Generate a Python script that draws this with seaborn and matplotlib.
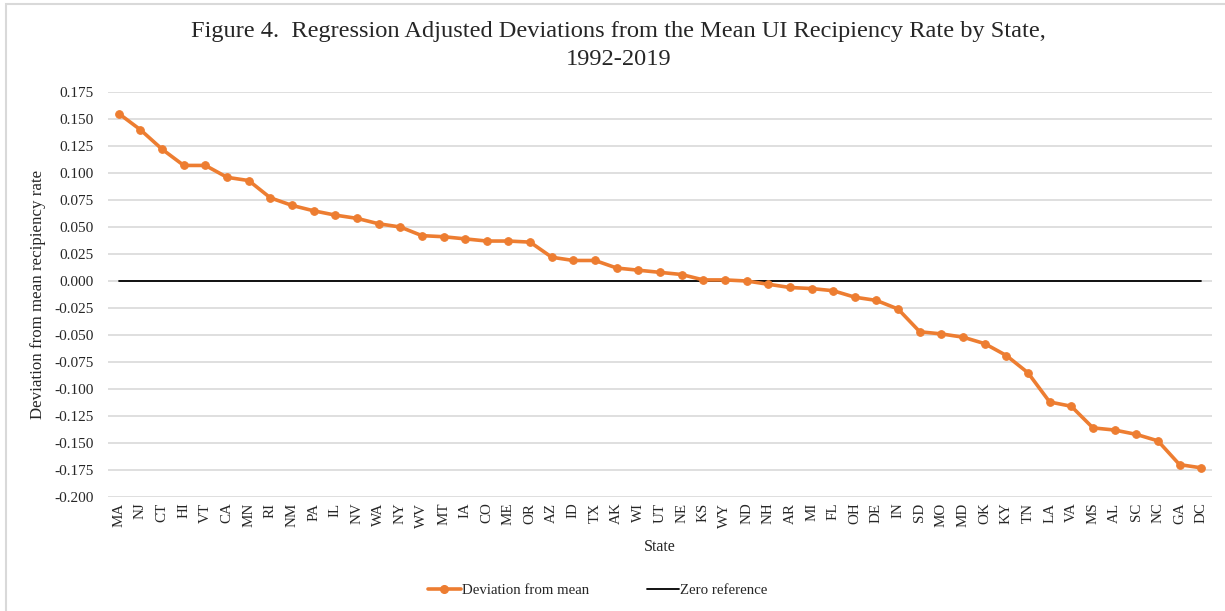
import matplotlib.pyplot as plt
import matplotlib.patches as mpatches
from matplotlib.lines import Line2D
import pandas as pd
import seaborn as sns

states = ["MA", "NJ", "CT", "HI", "VT", "CA", "MN", "RI", "NM", "PA", "IL", "NV", "WA",
          "NY", "WV", "MT", "IA", "CO", "ME", "OR", "AZ", "ID", "TX", "AK", "WI", "UT",
          "NE", "KS", "WY", "ND", "NH", "AR", "MI", "FL", "OH", "DE", "IN", "SD", "MO",
          "MD", "OK", "KY", "TN", "LA", "VA", "MS", "AL", "SC", "NC", "GA", "DC"]
deviation = [0.155, 0.140, 0.122, 0.107, 0.107, 0.096, 0.093, 0.077, 0.070, 0.065,
             0.061, 0.058, 0.053, 0.050, 0.042, 0.041, 0.039, 0.037, 0.037, 0.036,
             0.022, 0.019, 0.019, 0.012, 0.010, 0.008, 0.006, 0.001, 0.001, 0.000,
             -0.003, -0.006, -0.007, -0.009, -0.015, -0.018, -0.026, -0.047, -0.049,
             -0.052, -0.058, -0.069, -0.085, -0.112, -0.116, -0.136, -0.138, -0.142,
             -0.148, -0.170, -0.173]
zero_ref = [0.0] * len(states)
yticks = [0.175, 0.150, 0.125, 0.100, 0.075, 0.050, 0.025, 0.000, -0.025, -0.050,
          -0.075, -0.100, -0.125, -0.150, -0.175, -0.200]

df = pd.DataFrame({"State": states, "dev": deviation, "zero": zero_ref})

sns.set_theme(style="white")
plt.rcParams["font.family"] = ["Liberation Serif", "DejaVu Serif"]

fig = plt.figure(figsize=(12.25, 6.11), dpi=100)
ax = fig.add_axes([108 / 1225, 1 - 497 / 611, (1212 - 108) / 1225, (497 - 92) / 611])

orange = "#ED7D31"
sns.lineplot(data=df, x="State", y="zero", color="black", linewidth=1.3, sort=False, ax=ax)
sns.lineplot(data=df, x="State", y="dev", color=orange, linewidth=2.6, marker="o",
             markersize=5.5, markeredgecolor=orange, sort=False, ax=ax)

ax.set_ylim(-0.200, 0.175)
ax.set_xlim(-0.5, len(states) - 0.5)
ax.set_yticks(yticks)
ax.set_yticklabels([f"{v:.3f}" for v in yticks], fontsize=11)
ax.tick_params(axis="x", labelrotation=90, labelsize=10.8, pad=4, length=0)
ax.tick_params(axis="y", length=0, pad=10)
ax.grid(axis="y", color="#d9d9d9", linewidth=1.2)
ax.set_axisbelow(True)
for s in ax.spines.values():
    s.set_visible(False)

ax.set_xlabel("State", fontsize=11.5, labelpad=8)
ax.set_ylabel("Deviation from mean recipiency rate", fontsize=12.2, labelpad=6)

fig.text(0.505, 1 - 45.5 / 611, "Figure 4.  Regression Adjusted Deviations from the Mean UI Recipiency Rate by State,\n1992-2019",
         ha="center", va="center", fontsize=17.6, linespacing=1.42)

handles = [Line2D([], [], color=orange, linewidth=2.6, marker="o", markersize=5.5),
           Line2D([], [], color="black", linewidth=1.3)]
fig.legend(handles, ["Deviation from mean", "Zero reference"], loc="center",
           bbox_to_anchor=(0.488, 1 - 590 / 611), ncol=2, frameon=False, fontsize=10.7,
           handlelength=2.2, handletextpad=0.05, columnspacing=3.9)

fig.patches.append(mpatches.Rectangle((6 / 1225, -0.05), 1.2, 1.05 - 4 / 611,
                                      transform=fig.transFigure, fill=False,
                                      edgecolor="#d9d9d9", linewidth=1.5))

fig.savefig("out.png", dpi=100)
